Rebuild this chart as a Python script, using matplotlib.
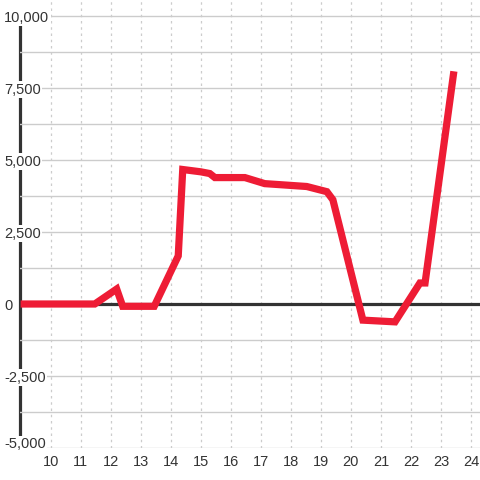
import matplotlib
matplotlib.use("Agg")
import matplotlib.pyplot as plt
from matplotlib.ticker import FuncFormatter, MultipleLocator

hours = [9, 11.47, 12.2, 12.4, 13.45, 14.25, 14.4, 15.0, 15.3, 15.47, 16.47,
         17.13, 18.53, 19.2, 19.4, 20.4, 21.47, 22.3, 22.47, 23.43]
values = [0, 0, 520, -80, -80, 1670, 4670, 4590, 4530, 4390, 4390,
          4180, 4080, 3900, 3620, -560, -620, 730, 730, 8080]

x_ticks = list(range(10, 25))
y_ticks = [-5000, -2500, 0, 2500, 5000, 7500, 10000]

plt.rcParams['font.family'] = ['Liberation Sans', 'DejaVu Sans']

fig = plt.figure(figsize=(4.8, 4.8), dpi=100)
fig.patch.set_facecolor('white')
ax = fig.add_axes([20/480, 32/480, 460/480, 448/480])
ax.set_xlim(8.98, 24.3)
ax.set_ylim(-5000, 10556)
ax.set_axisbelow(True)

ax.set_xticks(x_ticks)
ax.set_yticks(y_ticks)
ax.yaxis.set_minor_locator(MultipleLocator(1250))
ax.yaxis.set_major_formatter(FuncFormatter(lambda v, p: f"{int(v):,}"))

ax.grid(axis='y', which='both', color='#cccccc', lw=1.0, ls='-')
ax.grid(axis='x', which='major', color='#cccccc', lw=0.9, ls=(0, (2, 3)))

for s in ['top', 'right', 'bottom']:
    ax.spines[s].set_visible(False)
ax.spines['left'].set_color('#333333')
ax.spines['left'].set_linewidth(2.3)
ax.spines['left'].set_bounds(-4720, 10000)
ax.spines['left'].set_zorder(0.3)

ax.tick_params(axis='both', which='both', length=0, labelsize=10.5, labelcolor='#333333')
ax.tick_params(axis='x', pad=5)
ax.tick_params(axis='y', pad=11.5)
ylabels = ax.get_yticklabels()
for lab in ylabels:
    lab.set_horizontalalignment('left')
    lab.set_bbox(dict(facecolor='white', edgecolor='none', pad=1.0))
ylabels[0].set_verticalalignment('baseline')

ax.axhline(0, color='#333333', lw=2.3, zorder=2)
ax.plot(hours, values, color='#ee1c35', lw=5.2, solid_capstyle='butt',
        solid_joinstyle='miter', zorder=3, clip_on=False)

fig.savefig('out.png', dpi=100)
